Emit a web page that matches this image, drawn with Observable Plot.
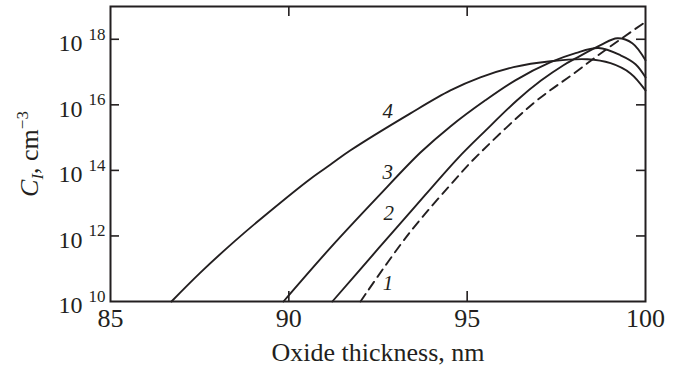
<!DOCTYPE html>
<html><head><meta charset="utf-8">
<script src="https://cdn.jsdelivr.net/npm/d3@7"></script>
<script src="https://cdn.jsdelivr.net/npm/@observablehq/plot@0.6"></script>
<style>html,body{margin:0;padding:0;background:#fff}svg{display:block}</style>
</head><body><div id="chart"></div>
<script>
// Oxide thickness (nm) and concentration C_I (cm^-3) per curve
const thickness1 = [92.01, 93.35, 94.76, 95.15, 96.86, 97.98, 98.93, 100];
const conc1 = [1e10, 1.12e12, 6.9e13, 2.0e14, 1.12e16, 8.9e16, 5.2e17, 3.4e18];
const thickness2 = [91.22, 92.5, 93.41, 94.73, 95.5, 96.40, 97.06, 97.7, 98.04, 98.74, 99.21, 99.63, 100];
const conc2 = [1e10, 4.0e11, 5.4e12, 2.3e14, 1.58e15, 1.38e16, 5.4e16, 1.62e17, 2.6e17, 6.6e17, 1.07e18, 7.6e17, 2.3e17];
const thickness3 = [89.85, 91.17, 92.5, 93.69, 94.53, 95.51, 96.35, 97.34, 98.04, 98.68, 99.30, 99.72, 100];
const conc3 = [1e10, 4.4e11, 1.58e13, 3.5e14, 2.2e15, 1.38e16, 5.6e16, 2.0e17, 3.8e17, 5.4e17, 3.25e17, 1.74e17, 6.9e16];
const thickness4 = [86.71, 87.52, 88.50, 89.49, 90.61, 91.17, 91.73, 93.41, 94.53, 95.37, 96.30, 97.34, 98.37, 99.02, 99.58, 100];
const conc4 = [1e10, 7.6e10, 7.2e11, 5.9e12, 5.6e13, 1.51e14, 4.1e14, 5.5e15, 2.75e16, 6.9e16, 1.41e17, 2.14e17, 2.45e17, 1.86e17, 9.1e16, 2.75e16];

const curveIds = ["1", "2", "3", "4"];
const labelX = [92.78, 92.80, 92.77, 92.77];
const labelY = [3.7e10, 4.8e12, 8.7e13, 6.3e15];

const xTicks = [85, 90, 95, 100];
const xTickLabels = ["85", "90", "95", "100"];
const yTicks = [1e10, 1e12, 1e14, 1e16, 1e18];
const yExponents = ["10", "12", "14", "16", "18"];
const xTitle = "Oxide thickness, nm";

const font = "'Liberation Serif', 'Times New Roman', Times, serif";

const xs = [thickness1, thickness2, thickness3, thickness4];
const ys = [conc1, conc2, conc3, conc4];
const rows = curveIds.flatMap((id, k) => xs[k].map((x, i) => ({curve: id, x, y: ys[k][i]})));
const labels = curveIds.map((id, i) => ({id, x: labelX[i], y: labelY[i]}));

const W = 677, H = 371, mL = 110, mR = 32, mT = 6, mB = 70;
const fw = W - mL - mR, fh = H - mT - mB;
const ink = "#231f20";

const plot = Plot.plot({
  width: W, height: H,
  marginLeft: mL, marginRight: mR, marginTop: mT, marginBottom: mB,
  style: {fontFamily: font, background: "white", color: ink, overflow: "visible"},
  x: {domain: [85, 100], axis: null},
  y: {type: "log", domain: [1e10, 1e19], axis: null},
  marks: [
    Plot.line(rows.filter(d => d.curve !== "1"), {x: "x", y: "y", z: "curve", curve: "catmull-rom", stroke: ink, strokeWidth: 1.9}),
    Plot.line(rows.filter(d => d.curve === "1"), {x: "x", y: "y", curve: "catmull-rom", stroke: ink, strokeWidth: 1.9, strokeDasharray: "9,6"}),
    Plot.frame({stroke: ink, strokeWidth: 2}),
    Plot.tickX(xTicks.slice(1, -1), {x: d => d, insetTop: fh - 10, stroke: ink, strokeWidth: 1.6}),
    Plot.tickX(xTicks.slice(1, -1), {x: d => d, insetBottom: fh - 10, stroke: ink, strokeWidth: 1.6}),
    Plot.tickY(yTicks.slice(1), {y: d => d, insetRight: fw - 9, stroke: ink, strokeWidth: 1.6}),
    Plot.tickY(yTicks.slice(1), {y: d => d, insetLeft: fw - 9, stroke: ink, strokeWidth: 1.6}),
    Plot.text(xTicks, {x: d => d, text: (d, i) => xTickLabels[i], frameAnchor: "bottom", dy: 25, fontSize: 26, fontFamily: font, fill: ink}),
    Plot.text(yTicks, {y: d => d, text: () => "10", frameAnchor: "left", textAnchor: "end", dx: -28, dy: 4, fontSize: 24, fontFamily: font, fill: ink}),
    Plot.text(yTicks, {y: d => d, text: (d, i) => yExponents[i], frameAnchor: "left", textAnchor: "start", dx: -22, dy: -5, fontSize: 17, fontFamily: font, fill: ink}),
    Plot.text(labels, {x: "x", y: "y", text: "id", fontSize: 21, fontStyle: "italic", fontFamily: font, fill: ink}),
    Plot.text([xTitle], {frameAnchor: "bottom", dy: 59, fontSize: 26, fontFamily: font, fill: ink})
  ]
});
document.getElementById("chart").appendChild(plot);

// Y axis title with italic subscript and superscript
const svg = d3.select(plot);
const t = svg.append("text")
  .attr("transform", "translate(38,154) rotate(-90)")
  .attr("text-anchor", "middle")
  .style("font-family", font)
  .attr("font-size", 26)
  .attr("fill", ink);
t.append("tspan").attr("font-style", "italic").text("C");
t.append("tspan").attr("font-style", "italic").attr("font-size", 17).attr("dy", 5).text("I");
t.append("tspan").attr("dy", -5).text(", cm");
t.append("tspan").attr("font-size", 17).attr("dy", -10).text("\u22123");
</script>
</body></html>
